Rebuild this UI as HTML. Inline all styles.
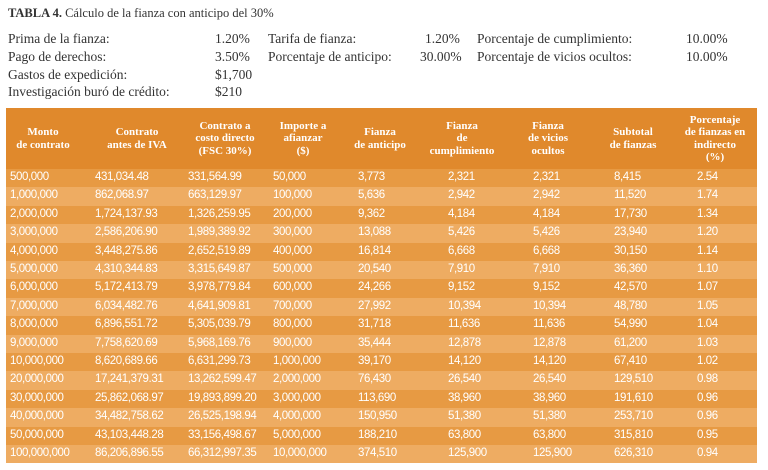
<!DOCTYPE html><html><head><meta charset="utf-8"><style>
body{margin:0;width:768px;height:470px;background:#fff;position:relative;overflow:hidden;font-family:"Liberation Serif",serif;color:#333}
.t{position:absolute;font-size:13.5px;white-space:nowrap;line-height:16px}
#tab{position:absolute;left:6px;top:108px;width:751px;height:355px;background:#e0892c}
.h{position:absolute;top:0;height:61px;display:flex;align-items:center;justify-content:center;text-align:center;color:#fff;font-weight:bold;font-size:11px;line-height:12.5px;font-family:"Liberation Serif",serif;transform:translateX(-50%);white-space:nowrap}
.r{position:absolute;left:0;width:751px;height:18.4px}
.r span{position:absolute;top:2px;color:#fff;font-family:"Liberation Sans",sans-serif;font-size:11.5px;letter-spacing:-0.4px}
</style></head><body>
<div class="t" style="left:8px;top:5px;font-size:12.5px"><b>TABLA 4.</b> Cálculo de la fianza con anticipo del 30%</div>
<div class="t" style="left:8px;top:31px">Prima de la fianza:</div><div class="t" style="left:215px;top:31px">1.20%</div>
<div class="t" style="left:8px;top:49px">Pago de derechos:</div><div class="t" style="left:215px;top:49px">3.50%</div>
<div class="t" style="left:8px;top:67px">Gastos de expedición:</div><div class="t" style="left:215px;top:67px">$1,700</div>
<div class="t" style="left:8px;top:84px">Investigación buró de crédito:</div><div class="t" style="left:215px;top:84px">$210</div>
<div class="t" style="left:268px;top:31px">Tarifa de fianza:</div><div class="t" style="left:425px;top:31px">1.20%</div>
<div class="t" style="left:268px;top:49px">Porcentaje de anticipo:</div><div class="t" style="left:420px;top:49px">30.00%</div>
<div class="t" style="left:477px;top:31px">Porcentaje de cumplimiento:</div><div class="t" style="left:686px;top:31px">10.00%</div>
<div class="t" style="left:477px;top:49px">Porcentaje de vicios ocultos:</div><div class="t" style="left:686px;top:49px">10.00%</div>
<div id="tab">
<div class="h" style="left:37px">Monto<br>de contrato</div>
<div class="h" style="left:131px">Contrato<br>antes de IVA</div>
<div class="h" style="left:219px">Contrato a<br>costo directo<br>(FSC 30%)</div>
<div class="h" style="left:297px">Importe a<br>afianzar<br>($)</div>
<div class="h" style="left:374px">Fianza<br>de anticipo</div>
<div class="h" style="left:456px">Fianza<br>de<br>cumplimiento</div>
<div class="h" style="left:542px">Fianza<br>de vicios<br>ocultos</div>
<div class="h" style="left:627px">Subtotal<br>de fianzas</div>
<div class="h" style="left:709px">Porcentaje<br>de fianzas en<br>indirecto<br>(%)</div>
<div id="rows"></div>
</div>
<script>
var d=[["500,000","431,034.48","331,564.99","50,000","3,773","2,321","2,321","8,415","2.54"],
["1,000,000","862,068.97","663,129.97","100,000","5,636","2,942","2,942","11,520","1.74"],
["2,000,000","1,724,137.93","1,326,259.95","200,000","9,362","4,184","4,184","17,730","1.34"],
["3,000,000","2,586,206.90","1,989,389.92","300,000","13,088","5,426","5,426","23,940","1.20"],
["4,000,000","3,448,275.86","2,652,519.89","400,000","16,814","6,668","6,668","30,150","1.14"],
["5,000,000","4,310,344.83","3,315,649.87","500,000","20,540","7,910","7,910","36,360","1.10"],
["6,000,000","5,172,413.79","3,978,779.84","600,000","24,266","9,152","9,152","42,570","1.07"],
["7,000,000","6,034,482.76","4,641,909.81","700,000","27,992","10,394","10,394","48,780","1.05"],
["8,000,000","6,896,551.72","5,305,039.79","800,000","31,718","11,636","11,636","54,990","1.04"],
["9,000,000","7,758,620.69","5,968,169.76","900,000","35,444","12,878","12,878","61,200","1.03"],
["10,000,000","8,620,689.66","6,631,299.73","1,000,000","39,170","14,120","14,120","67,410","1.02"],
["20,000,000","17,241,379.31","13,262,599.47","2,000,000","76,430","26,540","26,540","129,510","0.98"],
["30,000,000","25,862,068.97","19,893,899.20","3,000,000","113,690","38,960","38,960","191,610","0.96"],
["40,000,000","34,482,758.62","26,525,198.94","4,000,000","150,950","51,380","51,380","253,710","0.96"],
["50,000,000","43,103,448.28","33,156,498.67","5,000,000","188,210","63,800","63,800","315,810","0.95"],
["100,000,000","86,206,896.55","66,312,997.35","10,000,000","374,510","125,900","125,900","626,310","0.94"]];
var xs=[4,89,182,267,352,442,527,608,691],h="";
d.forEach(function(r,i){h+='<div class="r" style="top:'+(61+i*18.4)+'px;background:'+(i%2?'#eeac62':'#e79a43')+'">';
r.forEach(function(c,j){h+='<span style="left:'+xs[j]+'px">'+c+'</span>'});h+='</div>'});
document.getElementById('rows').innerHTML=h;
</script>
</body></html>
